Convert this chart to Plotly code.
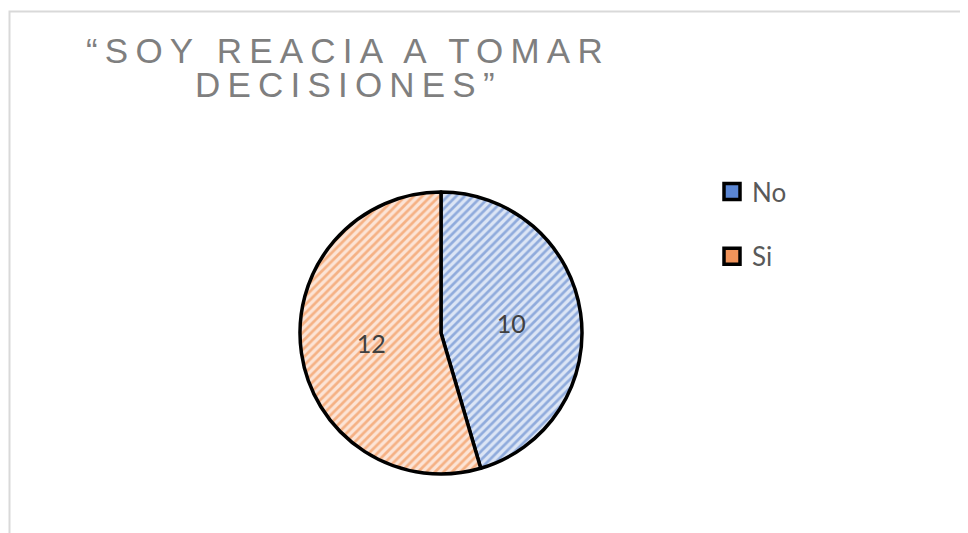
import plotly.graph_objects as go

labels = ["No", "Si"]
values = [10, 12]
fill_fg = ["#4472C4", "#ED7D31"]
fill_bg = ["#DCE5F5", "#FCE4D6"]
legend_fill = ["#5B86D3", "#F0935A"]
title_lines = ["“SOY REACIA A TOMAR", "DECISIONES”"]

W, H = 968, 533
# page body adds an 8px margin; layout coordinates below are figure coordinates
cx, cy, r = 433, 325, 141

fig = go.Figure()
fig.add_trace(go.Pie(
    labels=labels,
    values=values,
    sort=False,
    direction="clockwise",
    rotation=0,
    textinfo="value",
    textposition="inside",
    insidetextorientation="horizontal",
    textfont=dict(family="Lato, Open Sans, sans-serif", size=25, color="#404040"),
    marker=dict(
        colors=fill_bg,
        line=dict(color="#000000", width=3.5),
        pattern=dict(shape="/", fgcolor=fill_fg, bgcolor=fill_bg, size=6, solidity=0.45, fillmode="overlay"),
    ),
    domain=dict(x=[(cx - r) / W, (cx + r) / W], y=[(H - cy - r) / H, (H - cy + r) / H]),
    hoverinfo="label+value",
    showlegend=False,
))

# legend entries (one per category)
for lab, col in zip(labels, legend_fill):
    fig.add_trace(go.Scatter(
        x=[None], y=[None], mode="markers", name=lab, legendgroup=lab,
        marker=dict(symbol="square", size=19, color=col, line=dict(color="#000000", width=3.5)),
        hoverinfo="skip",
    ))

annotations = []
for i, line in enumerate(title_lines):
    annotations.append(dict(
        text=f'<span style="letter-spacing:7.2px">{line}</span>',
        x=340 / W, y=1 - (42.5 + 34 * i) / H, xref="paper", yref="paper",
        xanchor="center", yanchor="middle", showarrow=False,
        font=dict(family="Liberation Sans, Arial, sans-serif", size=35, color="#7F7F7F"),
    ))

fig.update_layout(
    width=W, height=H,
    margin=dict(l=0, r=0, t=0, b=0),
    paper_bgcolor="white",
    plot_bgcolor="white",
    showlegend=True,
    xaxis=dict(visible=False),
    yaxis=dict(visible=False),
    legend=dict(
        x=704 / W, y=1 - 160 / H, xanchor="left", yanchor="top",
        font=dict(family="Lato, Open Sans, sans-serif", size=26, color="#595959"),
        tracegroupgap=28,
        bgcolor="rgba(0,0,0,0)",
    ),
    annotations=annotations,
    shapes=[dict(
        type="rect", xref="paper", yref="paper",
        x0=1.5 / W, x1=1.05, y0=-0.05, y1=1 - 3.5 / H,
        line=dict(color="#D9D9D9", width=2), fillcolor="rgba(0,0,0,0)", layer="below",
    )],
)

fig.write_html("out.html")
